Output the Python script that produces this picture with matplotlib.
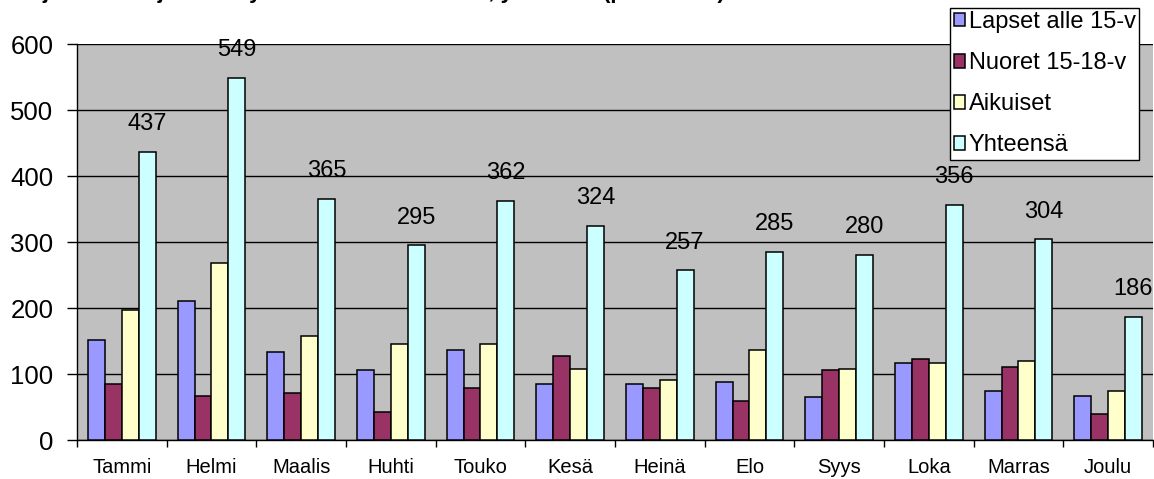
import matplotlib
matplotlib.use("Agg")
import matplotlib.pyplot as plt
import numpy as np

# Data
months = ["Tammi", "Helmi", "Maalis", "Huhti", "Touko", "Kesä",
          "Heinä", "Elo", "Syys", "Loka", "Marras", "Joulu"]
lapset = [151, 210, 134, 106, 136, 85, 85, 88, 65, 116, 74, 67]
nuoret = [85, 67, 71, 42, 79, 128, 79, 59, 106, 122, 111, 39]
aikuiset = [197, 268, 157, 145, 145, 108, 91, 136, 108, 116, 119, 74]
yhteensa = [437, 549, 365, 295, 362, 324, 257, 285, 280, 356, 304, 186]

series_names = ["Lapset alle 15-v", "Nuoret 15-18-v", "Aikuiset", "Yhteensä"]
series_colors = ["#9999FF", "#993366", "#FFFFCC", "#CCFFFF"]
y_ticks = [0, 100, 200, 300, 400, 500, 600]
title = "Kirjaston kävijöitä ikäryhmittäin vuonna 2009, yhteensä (prosenttia)"

plt.rcParams["font.family"] = ["Liberation Sans", "DejaVu Sans"]

fig = plt.figure(figsize=(11.54, 4.79), dpi=100)
ax = fig.add_axes([0.0667, 0.0814, 0.9324, 0.8267])
ax.set_facecolor("#C0C0C0")

x = np.arange(len(months))
width = 0.188
all_series = [lapset, nuoret, aikuiset, yhteensa]
bars_list = []
for i, (vals, name, col) in enumerate(zip(all_series, series_names, series_colors)):
    bars = ax.bar(x + (i - 1.5) * width, vals, width, color=col, edgecolor="black",
                  linewidth=1.1, label=name, zorder=3)
    bars_list.append(bars)

for bar, v in zip(bars_list[3], yhteensa):
    ax.annotate(str(v), (bar.get_x() + bar.get_width() / 2, bar.get_height()),
                xytext=(0, 20), textcoords="offset points", ha="center", va="center",
                fontsize=17, zorder=4)

ax.set_xlim(-0.5, len(months) - 0.5)
ax.set_ylim(0, 600)
ax.set_yticks(y_ticks)
ax.tick_params(axis="y", labelsize=18.5, length=7, width=1, direction="out", pad=10)
ax.yaxis.grid(True, color="black", linewidth=1.0, zorder=1)
ax.set_axisbelow(True)

ax.set_xticks(x)
ax.set_xticklabels(months, fontsize=14.5)
ax.set_xticks(np.arange(len(months) + 1) - 0.5, minor=True)
ax.tick_params(axis="x", which="major", length=0, pad=13)
ax.tick_params(axis="x", which="minor", length=5, width=1, direction="out")

for side in ["top", "right"]:
    ax.spines[side].set_visible(False)
for side in ["left", "bottom"]:
    ax.spines[side].set_color("black")
    ax.spines[side].set_linewidth(1.0)

# legend box runs past the top and right edge, as in the reference
leg = ax.legend(loc="lower left", bbox_to_anchor=(950 / 1154, 1 - 160 / 479),
                bbox_transform=fig.transFigure, fontsize=17, frameon=True,
                fancybox=False, borderaxespad=0, handlelength=0.5,
                handleheight=0.5, handletextpad=0.15, labelspacing=0.81,
                borderpad=0.15)
leg.get_frame().set_edgecolor("black")
leg.get_frame().set_linewidth(1.0)
leg.get_frame().set_alpha(1)
leg.set_zorder(10)

# title clipped by the top of the picture, only descenders remain
fig.text(0.01, 1.004, title, fontsize=16, fontweight="bold", ha="left", va="baseline")

fig.savefig("out.png", dpi=100)
